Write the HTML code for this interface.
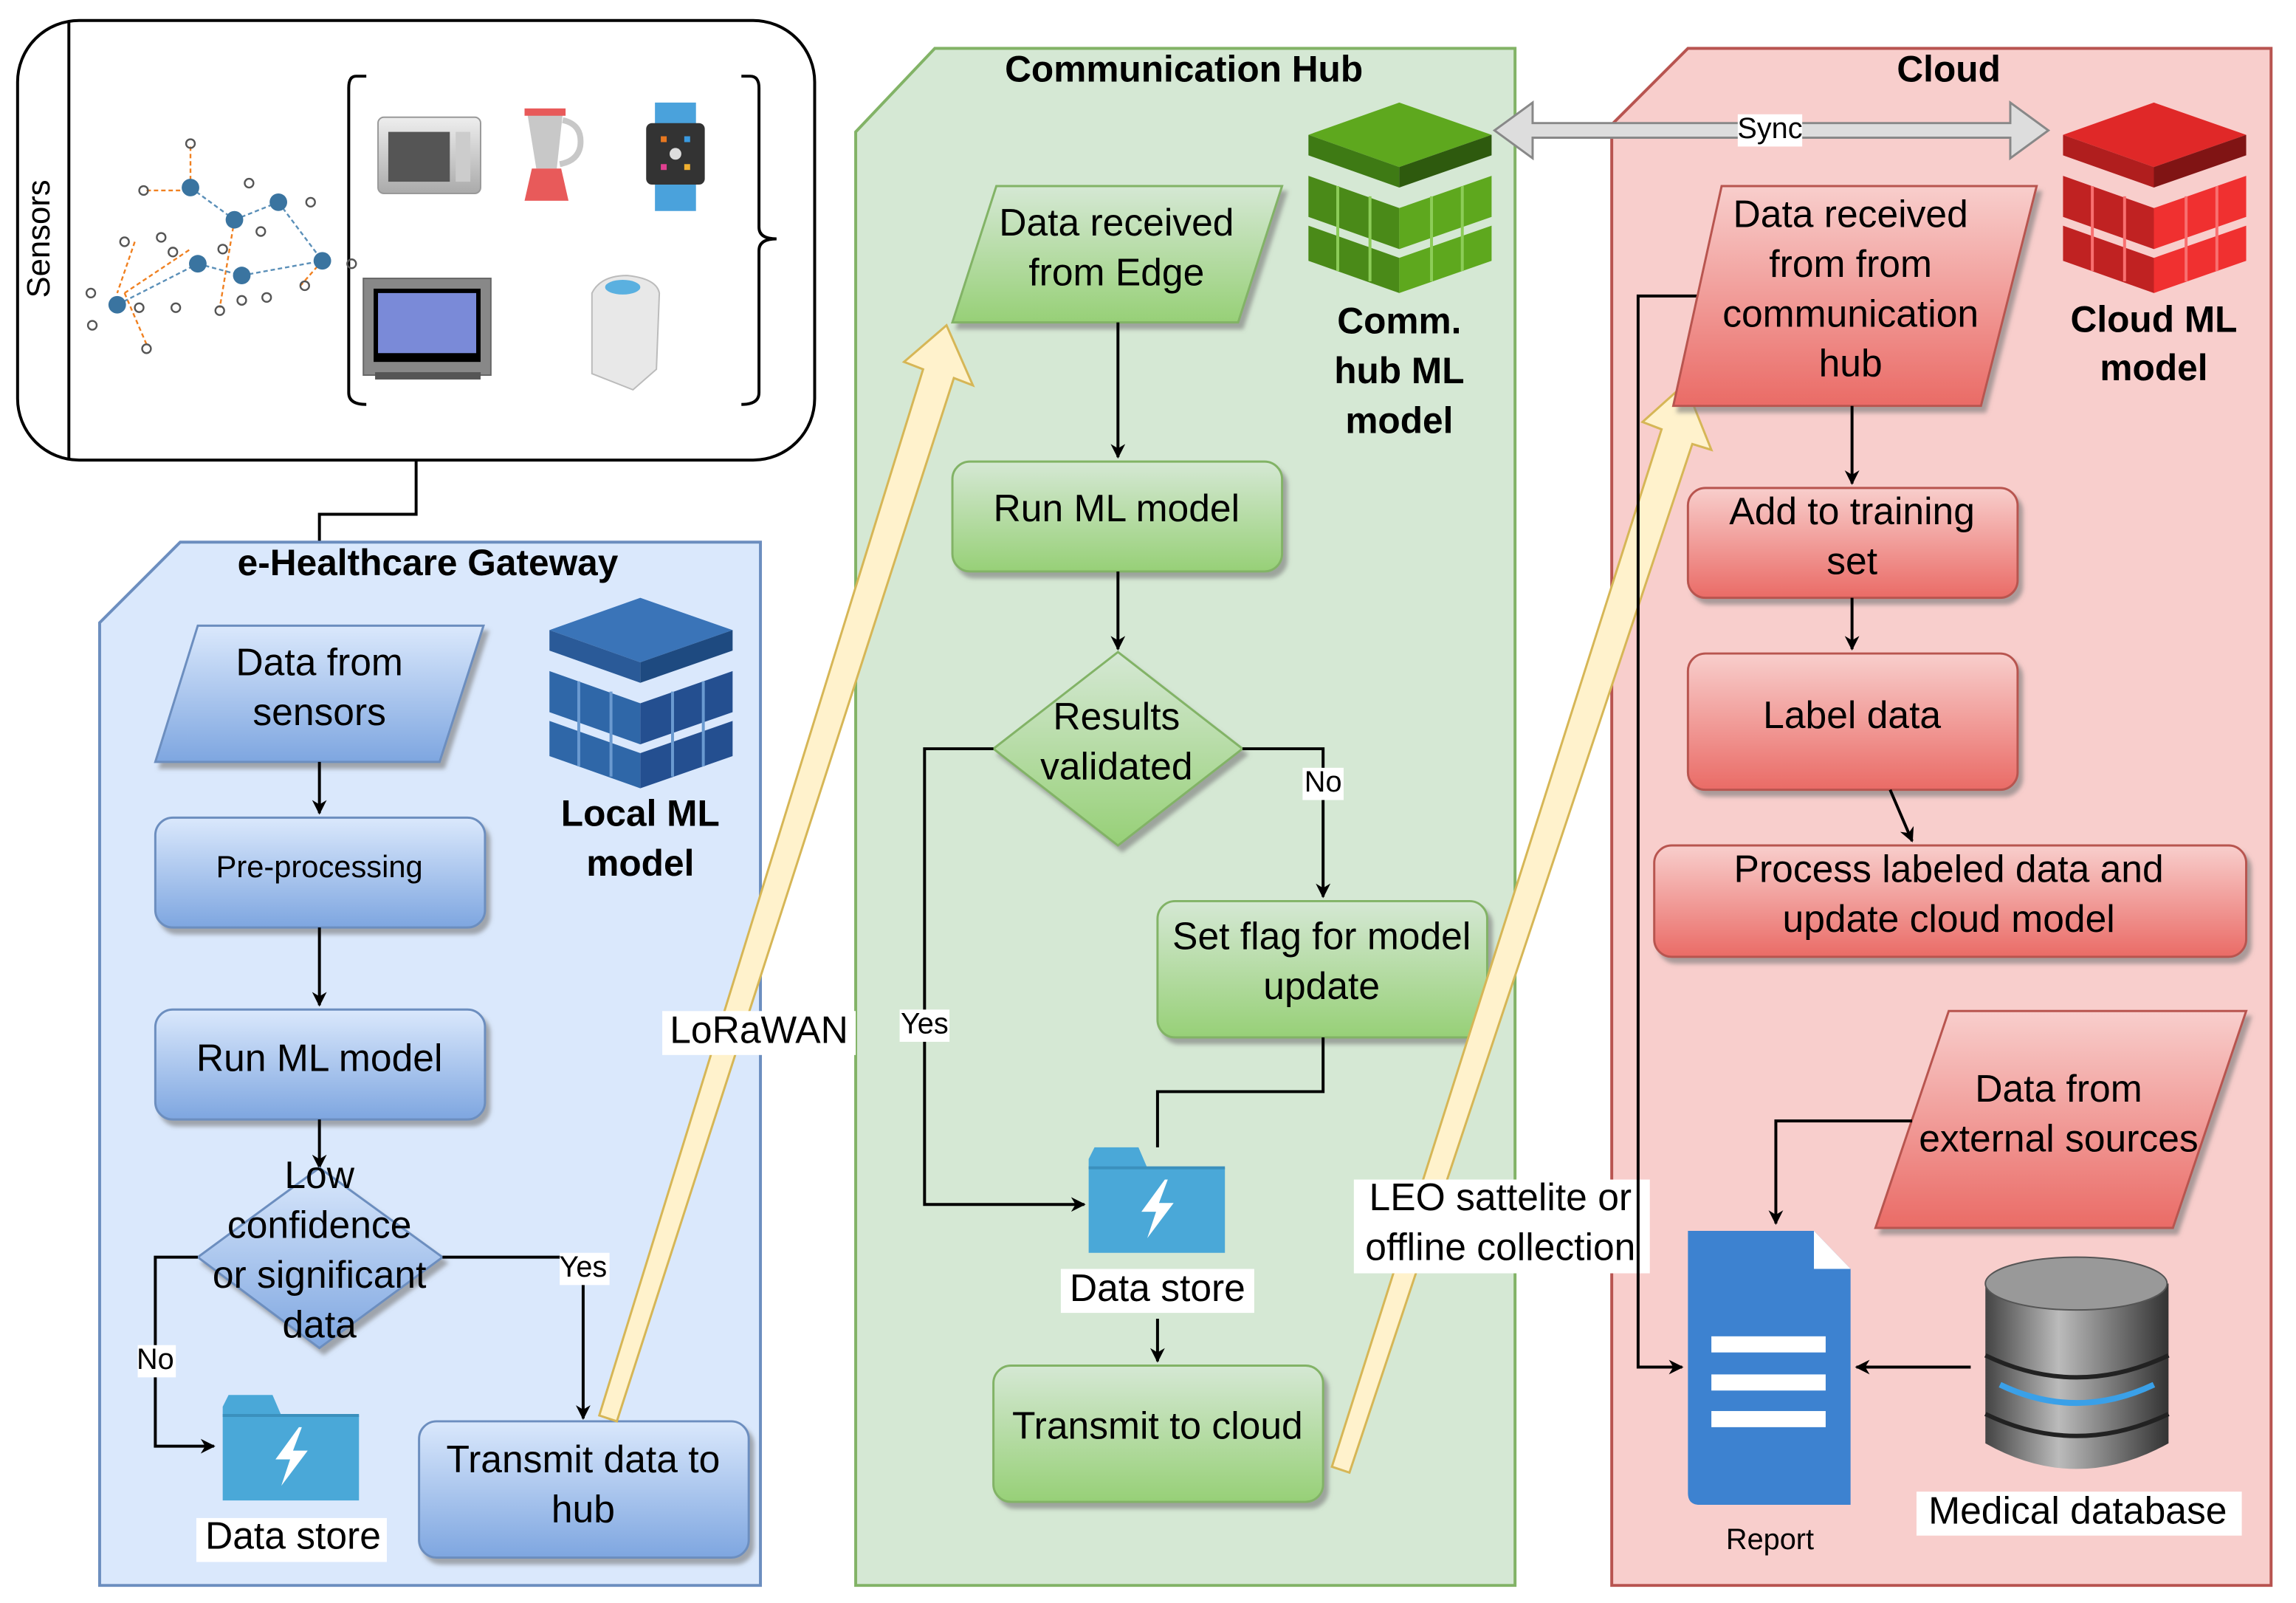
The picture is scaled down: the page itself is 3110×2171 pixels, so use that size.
<!DOCTYPE html>
<html><head><meta charset="utf-8">
<style>
html,body{margin:0;padding:0;background:#fff;}
svg{display:block;}
text{font-family:"Liberation Sans",sans-serif;fill:#000;}
.t{font-size:26px;text-anchor:middle;dominant-baseline:middle;}
.b{font-size:25px;font-weight:bold;text-anchor:middle;dominant-baseline:middle;}
.s{font-size:20px;text-anchor:middle;dominant-baseline:middle;}
.ln{stroke:#000;stroke-width:2;fill:none;}
</style></head><body>
<svg width="3110" height="2171" viewBox="0 0 1567 1094" preserveAspectRatio="none" xmlns="http://www.w3.org/2000/svg">
<defs>
<linearGradient id="gb" x1="0" y1="0" x2="0" y2="1"><stop offset="0" stop-color="#dae8fc"/><stop offset="1" stop-color="#7ea6e0"/></linearGradient>
<linearGradient id="gg" x1="0" y1="0" x2="0" y2="1"><stop offset="0" stop-color="#d5e8d4"/><stop offset="1" stop-color="#97d077"/></linearGradient>
<linearGradient id="gr" x1="0" y1="0" x2="0" y2="1"><stop offset="0" stop-color="#f8cecc"/><stop offset="1" stop-color="#ea6b66"/></linearGradient>
<linearGradient id="gs" x1="0" y1="0" x2="0" y2="1"><stop offset="0" stop-color="#eee"/><stop offset="1" stop-color="#aaa"/></linearGradient>
<linearGradient id="gdb" x1="0" y1="0" x2="1" y2="0"><stop offset="0" stop-color="#444"/><stop offset=".4" stop-color="#bbb"/><stop offset="1" stop-color="#333"/></linearGradient>
<filter id="sh" x="-10%" y="-10%" width="130%" height="130%"><feDropShadow dx="3" dy="4" stdDeviation="1.5" flood-color="#777" flood-opacity=".6"/></filter>
<marker id="ar" markerWidth="10" markerHeight="10" refX="9" refY="5" orient="auto" markerUnits="userSpaceOnUse"><path d="M0,0 L10,5 L0,10 L3,5 z" fill="#000"/></marker>
<g id="ds">
<path d="M0,8 L0,72 L93,72 L93,14 L40,14 L34,0 L4,0 Z" fill="#4aa8d8"/>
<path d="M0,14 L93,14" stroke="#3b90bd" stroke-width="2"/>
<path d="M52,22 L36,44 L46,44 L40,62 L58,38 L48,38 L54,22 Z" fill="#fff"/>
</g>
</defs>

<rect x="12" y="14" width="544" height="300" rx="42" fill="#fff" stroke="#000" stroke-width="2"/>
<line x1="47" y1="14" x2="47" y2="314" stroke="#000" stroke-width="2"/>
<text class="s" x="28" y="163" transform="rotate(-90 28 163)" style="font-size:22px">Sensors</text>
<path d="M250,52 H243 Q238,52 238,60 V268 Q238,276 250,276 M506,52 H512 Q518,52 518,60 V155 Q518,163 530,163 Q518,163 518,171 V268 Q518,276 506,276" class="ln" stroke-width="1.5"/>
<g stroke="#f08020" stroke-width="1.2" stroke-dasharray="3,2">
<line x1="130" y1="100" x2="130" y2="128"/><line x1="100" y1="130" x2="128" y2="130"/><line x1="85" y1="200" x2="100" y2="235"/><line x1="85" y1="200" x2="130" y2="170"/><line x1="160" y1="150" x2="150" y2="210"/><line x1="220" y1="178" x2="205" y2="195"/><line x1="92" y1="165" x2="80" y2="200"/></g>
<g stroke="#5a8fb8" stroke-width="1.2" stroke-dasharray="3,2">
<line x1="130" y1="128" x2="160" y2="150"/><line x1="160" y1="150" x2="190" y2="138"/><line x1="80" y1="208" x2="135" y2="180"/><line x1="135" y1="180" x2="165" y2="188"/><line x1="165" y1="188" x2="220" y2="178"/><line x1="190" y1="138" x2="220" y2="178"/></g>
<g fill="#3a74a0"><circle cx="130" cy="128" r="6"/><circle cx="160" cy="150" r="6"/><circle cx="190" cy="138" r="6"/><circle cx="135" cy="180" r="6"/><circle cx="165" cy="188" r="6"/><circle cx="220" cy="178" r="6"/><circle cx="80" cy="208" r="6"/></g>
<g fill="none" stroke="#555" stroke-width="1.2"><circle cx="130" cy="98" r="3"/><circle cx="98" cy="130" r="3"/><circle cx="110" cy="162" r="3"/><circle cx="85" cy="165" r="3"/><circle cx="170" cy="125" r="3"/><circle cx="212" cy="138" r="3"/><circle cx="118" cy="172" r="3"/><circle cx="152" cy="170" r="3"/><circle cx="178" cy="158" r="3"/><circle cx="62" cy="200" r="3"/><circle cx="63" cy="222" r="3"/><circle cx="100" cy="238" r="3"/><circle cx="95" cy="210" r="3"/><circle cx="120" cy="210" r="3"/><circle cx="150" cy="212" r="3"/><circle cx="165" cy="205" r="3"/><circle cx="182" cy="203" r="3"/><circle cx="208" cy="195" r="3"/><circle cx="240" cy="180" r="3"/></g>
<rect x="258" y="80" width="70" height="52" rx="4" fill="url(#gs)" stroke="#999"/><rect x="265" y="90" width="42" height="34" fill="#555"/><rect x="311" y="90" width="10" height="34" fill="#ccc"/>
<path d="M360,78 H384 L380,115 H366 Z" fill="#c8c8c8"/><path d="M384,82 Q398,85 396,100 Q394,110 382,112" fill="none" stroke="#c8c8c8" stroke-width="4"/><rect x="358" y="74" width="28" height="5" fill="#e85a5a"/><path d="M363,115 H383 L388,137 H358 Z" fill="#e85a5a"/>
<rect x="447" y="70" width="28" height="16" fill="#4aa2dc"/><rect x="447" y="124" width="28" height="20" fill="#4aa2dc"/><rect x="441" y="84" width="40" height="42" rx="4" fill="#333"/><circle cx="461" cy="105" r="4" fill="#ddd"/><rect x="451" y="93" width="4" height="4" fill="#e87820"/><rect x="467" y="93" width="4" height="4" fill="#3a9ae0"/><rect x="451" y="112" width="4" height="4" fill="#e04090"/><rect x="467" y="112" width="4" height="4" fill="#f0b030"/>
<rect x="248" y="190" width="87" height="66" fill="#888" stroke="#666"/><rect x="255" y="197" width="73" height="50" fill="#000"/><rect x="258" y="200" width="67" height="41" fill="#7a8ad8"/><rect x="256" y="254" width="72" height="5" fill="#555"/>
<path d="M404,200 Q410,188 428,188 Q448,190 450,200 L448,252 L432,266 L404,255 Z" fill="#e8e8e8" stroke="#bbb"/><ellipse cx="425" cy="196" rx="12" ry="5" fill="#5ab0e0"/>

<path d="M284,314 V351 H218 V423" class="ln" marker-end="url(#ar)"/>

<path d="M68,425 L123,370 H519 V1082 H68 Z" fill="#dae8fc" stroke="#6c8ebf" stroke-width="2"/>
<text class="b" x="292" y="386">e-Healthcare Gateway</text>
<path d="M584,90 L638,33 H1034 V1082 H584 Z" fill="#d5e8d4" stroke="#82b366" stroke-width="2"/>
<text class="b" x="808" y="49">Communication Hub</text>
<path d="M1100,85 L1152,33 H1550 V1082 H1100 Z" fill="#f8cecc" stroke="#b85450" stroke-width="2"/>
<text class="b" x="1330" y="49">Cloud</text>

<polygon points="135,427 330,427 300,520 106,520" fill="url(#gb)" stroke="#6c8ebf" stroke-width="1.5" filter="url(#sh)"/>
<text class="t" x="218" y="454">Data from</text><text class="t" x="218" y="488">sensors</text>
<line x1="218" y1="520" x2="218" y2="555" class="ln" marker-end="url(#ar)"/>
<rect x="106" y="558" width="225" height="75" rx="12" fill="url(#gb)" stroke="#6c8ebf" stroke-width="1.5" filter="url(#sh)"/>
<text class="s" x="218" y="593" style="font-size:21px">Pre-processing</text>
<line x1="218" y1="633" x2="218" y2="686" class="ln" marker-end="url(#ar)"/>
<rect x="106" y="689" width="225" height="75" rx="12" fill="url(#gb)" stroke="#6c8ebf" stroke-width="1.5" filter="url(#sh)"/>
<text class="t" x="218" y="724">Run ML model</text>
<line x1="218" y1="764" x2="218" y2="797" class="ln" marker-end="url(#ar)"/>
<polygon points="218,797 302,858 218,920 135,858" fill="url(#gb)" stroke="#6c8ebf" stroke-width="1.5" filter="url(#sh)"/>
<text class="t" x="218" y="804">Low</text><text class="t" x="218" y="838">confidence</text><text class="t" x="218" y="872">or significant</text><text class="t" x="218" y="906">data</text>
<path d="M135,858 H106 V987 H146" class="ln" marker-end="url(#ar)"/>
<rect x="94" y="918" width="26" height="22" fill="#fff"/><text class="s" x="106" y="929">No</text>
<path d="M302,858 H398 V968" class="ln" marker-end="url(#ar)"/>
<rect x="382" y="855" width="34" height="22" fill="#fff"/><text class="s" x="398" y="866">Yes</text>
<use href="#ds" x="152" y="952"/>
<rect x="134" y="1036" width="130" height="30" fill="#fff"/><text class="t" x="200" y="1050">Data store</text>
<rect x="286" y="970" width="225" height="93" rx="12" fill="url(#gb)" stroke="#6c8ebf" stroke-width="1.5" filter="url(#sh)"/>
<text class="t" x="398" y="998">Transmit data to</text><text class="t" x="398" y="1032">hub</text>
<g transform="translate(375,408)">
<polygon points="62,0 125,22 62,44 0,22" fill="#3a74b8"/><polygon points="0,22 62,44 62,58 0,36" fill="#2a5a98"/><polygon points="62,44 125,22 125,36 62,58" fill="#1e4a80"/>
<polygon points="0,50 62,72 62,100 0,78" fill="#2f67a8"/><polygon points="62,72 125,50 125,78 62,100" fill="#244f90"/>
<polygon points="0,84 62,106 62,130 0,108" fill="#2f67a8"/><polygon points="62,106 125,84 125,108 62,130" fill="#244f90"/>
<g stroke="#6a9ad0" stroke-width="2"><line x1="20" y1="57" x2="20" y2="115"/><line x1="42" y1="64" x2="42" y2="122"/><line x1="84" y1="64" x2="84" y2="122"/><line x1="105" y1="57" x2="105" y2="115"/></g>
</g>
<text class="b" x="437" y="557">Local ML</text><text class="b" x="437" y="591">model</text>

<polygon points="409,966 421,970 651,258 664,263 646,222 617,247 630,252" fill="#fff2cc" stroke="#d6b656" stroke-width="1.5"/>
<rect x="452" y="690" width="132" height="30" fill="#fff"/><text class="t" x="518" y="705">LoRaWAN</text>

<polygon points="680,127 875,127 845,220 650,220" fill="url(#gg)" stroke="#82b366" stroke-width="1.5" filter="url(#sh)"/>
<text class="t" x="762" y="154">Data received</text><text class="t" x="762" y="188">from Edge</text>
<line x1="763" y1="220" x2="763" y2="312" class="ln" marker-end="url(#ar)"/>
<rect x="650" y="315" width="225" height="75" rx="12" fill="url(#gg)" stroke="#82b366" stroke-width="1.5" filter="url(#sh)"/>
<text class="t" x="762" y="349">Run ML model</text>
<line x1="763" y1="390" x2="763" y2="443" class="ln" marker-end="url(#ar)"/>
<polygon points="763,445 848,511 763,577 678,511" fill="url(#gg)" stroke="#82b366" stroke-width="1.5" filter="url(#sh)"/>
<text class="t" x="762" y="491">Results</text><text class="t" x="762" y="525">validated</text>
<path d="M848,511 H903 V612" class="ln" marker-end="url(#ar)"/>
<rect x="889" y="524" width="28" height="22" fill="#fff"/><text class="s" x="903" y="535">No</text>
<rect x="790" y="615" width="225" height="93" rx="12" fill="url(#gg)" stroke="#82b366" stroke-width="1.5" filter="url(#sh)"/>
<text class="t" x="902" y="641">Set flag for model</text><text class="t" x="902" y="675">update</text>
<path d="M903,708 V745 H790 V783" class="ln"/>
<path d="M678,511 H631 V822 H740" class="ln" marker-end="url(#ar)"/>
<rect x="614" y="689" width="34" height="22" fill="#fff"/><text class="s" x="631" y="700">Yes</text>
<use href="#ds" x="743" y="783"/>
<rect x="724" y="866" width="132" height="30" fill="#fff"/><text class="t" x="790" y="881">Data store</text>
<line x1="790" y1="900" x2="790" y2="929" class="ln" marker-end="url(#ar)"/>
<rect x="678" y="932" width="225" height="93" rx="12" fill="url(#gg)" stroke="#82b366" stroke-width="1.5" filter="url(#sh)"/>
<text class="t" x="790" y="975">Transmit to cloud</text>
<g transform="translate(893,70)">
<polygon points="62,0 125,22 62,44 0,22" fill="#5ea81e"/><polygon points="0,22 62,44 62,58 0,36" fill="#3e7a14"/><polygon points="62,44 125,22 125,36 62,58" fill="#2e5a0e"/>
<polygon points="0,50 62,72 62,100 0,78" fill="#4a8a18"/><polygon points="62,72 125,50 125,78 62,100" fill="#5ea81e"/>
<polygon points="0,84 62,106 62,130 0,108" fill="#4a8a18"/><polygon points="62,106 125,84 125,108 62,130" fill="#5ea81e"/>
<g stroke="#8ccc58" stroke-width="2"><line x1="20" y1="57" x2="20" y2="115"/><line x1="42" y1="64" x2="42" y2="122"/><line x1="84" y1="64" x2="84" y2="122"/><line x1="105" y1="57" x2="105" y2="115"/></g>
</g>
<text class="b" x="955" y="221">Comm.</text><text class="b" x="955" y="255">hub ML</text><text class="b" x="955" y="289">model</text>

<polygon points="909,1001 921,1005 1155,303 1168,307 1150,262 1121,288 1134,293" fill="#fff2cc" stroke="#d6b656" stroke-width="1.5"/>
<rect x="924" y="805" width="202" height="64" fill="#fff"/><text class="t" x="1024" y="819">LEO sattelite or</text><text class="t" x="1024" y="853">offline collection</text>

<polygon points="1020,89 1046,70 1046,84 1372,84 1372,70 1398,89 1372,108 1372,94 1046,94 1046,108" fill="#ddd" stroke="#888" stroke-width="1.5"/>
<rect x="1186" y="78" width="44" height="22" fill="#fff"/><text class="s" x="1208" y="89">Sync</text>

<path d="M1160,202 H1118 V933 H1148" class="ln" marker-end="url(#ar)"/>
<polygon points="1175,127 1390,127 1352,277 1142,277" fill="url(#gr)" stroke="#b85450" stroke-width="1.5" filter="url(#sh)"/>
<text class="t" x="1263" y="148">Data received</text><text class="t" x="1263" y="182">from from</text><text class="t" x="1263" y="216">communication</text><text class="t" x="1263" y="250">hub</text>
<g transform="translate(1408,70)">
<polygon points="62,0 125,22 62,44 0,22" fill="#e02828"/><polygon points="0,22 62,44 62,58 0,36" fill="#b01e1e"/><polygon points="62,44 125,22 125,36 62,58" fill="#801414"/>
<polygon points="0,50 62,72 62,100 0,78" fill="#c02222"/><polygon points="62,72 125,50 125,78 62,100" fill="#f03030"/>
<polygon points="0,84 62,106 62,130 0,108" fill="#c02222"/><polygon points="62,106 125,84 125,108 62,130" fill="#f03030"/>
<g stroke="#f87070" stroke-width="2"><line x1="20" y1="57" x2="20" y2="115"/><line x1="42" y1="64" x2="42" y2="122"/><line x1="84" y1="64" x2="84" y2="122"/><line x1="105" y1="57" x2="105" y2="115"/></g>
</g>
<text class="b" x="1470" y="220">Cloud ML</text><text class="b" x="1470" y="253">model</text>
<line x1="1264" y1="277" x2="1264" y2="330" class="ln" marker-end="url(#ar)"/>
<rect x="1152" y="333" width="225" height="75" rx="12" fill="url(#gr)" stroke="#b85450" stroke-width="1.5" filter="url(#sh)"/>
<text class="t" x="1264" y="351">Add to training</text><text class="t" x="1264" y="385">set</text>
<line x1="1264" y1="408" x2="1264" y2="443" class="ln" marker-end="url(#ar)"/>
<rect x="1152" y="446" width="225" height="93" rx="12" fill="url(#gr)" stroke="#b85450" stroke-width="1.5" filter="url(#sh)"/>
<text class="t" x="1264" y="490">Label data</text>
<line x1="1290" y1="539" x2="1305" y2="574" class="ln" marker-end="url(#ar)"/>
<rect x="1129" y="577" width="404" height="76" rx="12" fill="url(#gr)" stroke="#b85450" stroke-width="1.5" filter="url(#sh)"/>
<text class="t" x="1330" y="595">Process labeled data and</text><text class="t" x="1330" y="629">update cloud model</text>
<polygon points="1330,690 1533,690 1483,838 1280,838" fill="url(#gr)" stroke="#b85450" stroke-width="1.5" filter="url(#sh)"/>
<text class="t" x="1405" y="745">Data from</text><text class="t" x="1405" y="779">external sources</text>
<path d="M1305,765 H1212 V835" class="ln" marker-end="url(#ar)"/>
<path d="M1152,840 H1238 L1263,866 V1027 H1160 Q1152,1027 1152,1019 Z" fill="#3d82d0"/>
<path d="M1238,840 L1238,866 H1263 Z" fill="#fff"/>
<rect x="1168" y="912" width="78" height="11" fill="#fff"/><rect x="1168" y="938" width="78" height="11" fill="#fff"/><rect x="1168" y="963" width="78" height="11" fill="#fff"/>
<text class="s" x="1208" y="1052">Report</text>
<g>
<path d="M1355,876 V985 Q1417,1020 1480,985 V876 Z" fill="url(#gdb)"/>
<ellipse cx="1417" cy="876" rx="62" ry="18" fill="#999" stroke="#555"/>
<path d="M1355,925 Q1417,955 1480,925" fill="none" stroke="#222" stroke-width="3"/>
<path d="M1365,945 Q1417,970 1470,945" fill="none" stroke="#3aa0e8" stroke-width="4"/>
<path d="M1355,965 Q1417,995 1480,965" fill="none" stroke="#222" stroke-width="3"/>
</g>
<line x1="1345" y1="933" x2="1267" y2="933" class="ln" marker-end="url(#ar)"/>
<rect x="1308" y="1018" width="222" height="30" fill="#fff"/><text class="t" x="1418" y="1033">Medical database</text>
</svg>
</body></html>
